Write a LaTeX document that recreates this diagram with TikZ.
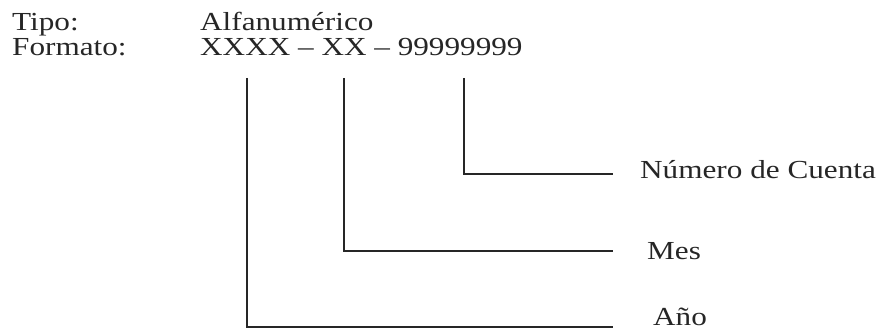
\documentclass[tikz,border=0pt]{standalone}
\usepackage{fontspec}
\setmainfont[FakeStretch=1.2]{Liberation Serif}
\begin{document}
\begin{tikzpicture}[x=1pt,y=1pt,
  txt/.style={inner sep=0pt,anchor=base west,font=\fontsize{26}{30}\selectfont,text=black!85},
  lead/.style={draw=black!85,line width=1.2pt}]
\useasboundingbox (0,0) rectangle (888,331);
\node[txt] (tipo) at (12,300) {Tipo:};
\node[txt] (formato) at (12,275) {Formato:};
\node[txt] (alfa) at (200,300) {Alfanumérico};
\node[txt] (fmt) at (200,275) {XXXX -- XX -- 99999999};
\node[txt] (cuenta) at (640,152) {Número de Cuenta};
\node[txt] (mes) at (647,71) {Mes};
\node[txt] (ano) at (653,5) {Año};
\coordinate (tA) at (247,253);
\coordinate (tM) at (344,253);
\coordinate (tC) at (464,253);
\coordinate (eC) at (613,157);
\coordinate (eM) at (613,80);
\coordinate (eA) at (613,4);
\draw[lead] (tC) |- (eC);
\draw[lead] (tM) |- (eM);
\draw[lead] (tA) |- (eA);
\end{tikzpicture}
\end{document}
